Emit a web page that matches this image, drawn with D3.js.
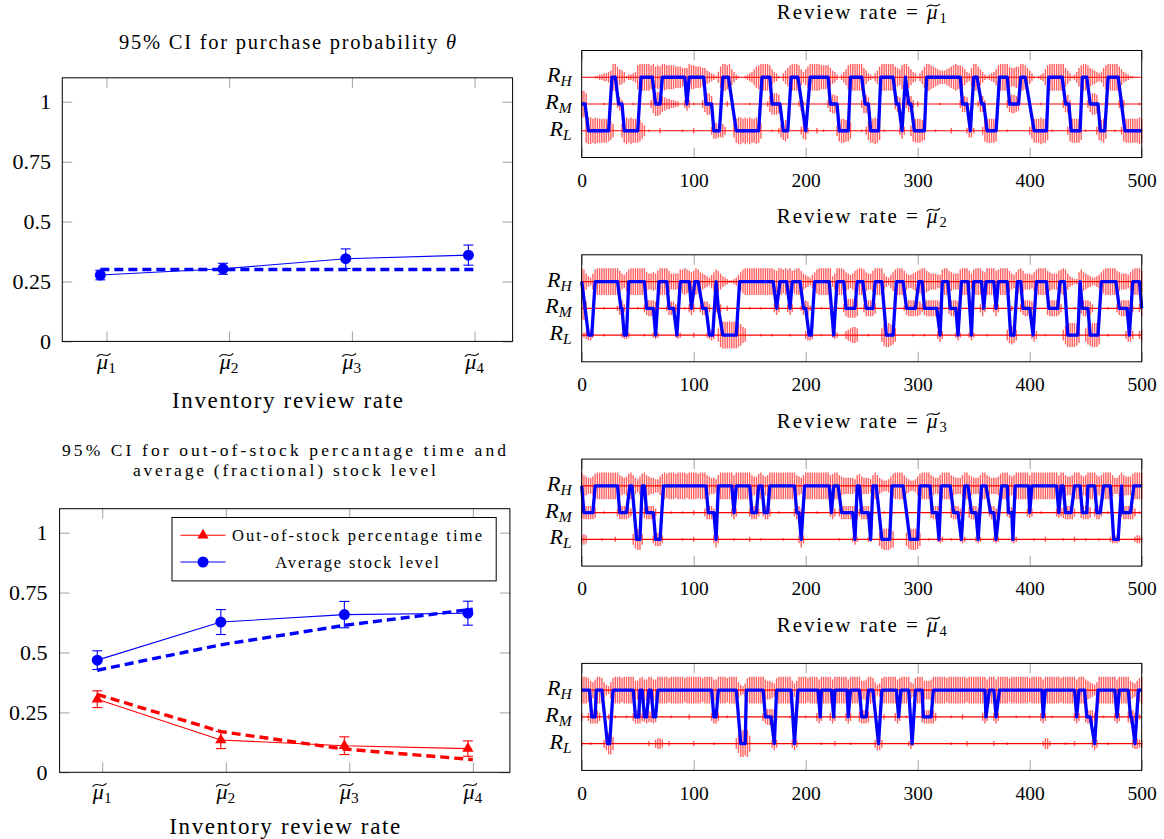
<!DOCTYPE html>
<html>
<head>
<meta charset="utf-8">
<script src="https://cdn.jsdelivr.net/npm/d3@7"></script>
<style>
  body { margin: 0; background: #fff; }
  svg { display: block; background: #fff; }
  text { font-family: "Liberation Serif", "Times New Roman", serif; fill: #000; }
</style>
</head>
<body>
<div id="chart"></div>
<script>
// ---------- data: left charts ----------
const rateIdx = [1, 2, 3, 4];
const yTicksLeft = [0, 0.25, 0.5, 0.75, 1];

// 95% CI for purchase probability theta
const thetaMean = [0.277, 0.303, 0.345, 0.36];
const thetaErr = [0.02, 0.023, 0.041, 0.042];
const thetaTrue = [0.3, 0.3, 0.3, 0.3];

// out-of-stock percentage time / average stock level
const oosMean = [0.305, 0.135, 0.111, 0.099];
const oosErr = [0.035, 0.036, 0.037, 0.032];
const oosModel = [0.325, 0.17, 0.097, 0.053];
const stockMean = [0.468, 0.627, 0.658, 0.664];
const stockErr = [0.039, 0.052, 0.055, 0.05];
const stockModel = [0.426, 0.532, 0.613, 0.681];

const legendLabels = ["Out-of-stock percentage time", "Average stock level"];

// ---------- data: right panels ----------
const xTicksRight = [0, 100, 200, 300, 400, 500];
const levelNames = ["L", "M", "H"];
const levelValue = { L: 1, M: 2, H: 3 };

// review state over time, vertices "time+level"
const path1 = "0M 3M 6L 24L 27H 30H 33M 36M 38L 50L 53H 63H 66M 70M 72H 92H 94M 96H 109H 111M 116M 118L 123L 126H 131H 138L 158L 161H 168H 170M 177M 180L 184L 187H 193H 200L 204H 220H 222M 228M 230L 238L 240H 250H 253M 256M 258L 265L 267H 278H 281M 283M 286L 289H 292M 294M 297L 306L 308H 338H 340M 344M 347L 350H 353H 357M 359M 362L 370L 373H 380H 382M 390M 392H 396H 404L 415L 417H 429H 432M 435M 437L 445L 447H 451H 454M 461M 463L 467L 470H 479H 482M 485L 500L";
const path2 = "0H 6L 9L 12H 32H 35M 36M 38L 40L 42H 56H 58M 64M 66L 69H 76H 78M 82M 85L 88H 96H 98M 101H 104H 108M 111M 114L 117L 120H 122M 126L 138L 141H 171H 174M 177H 183H 186M 188H 195H 198M 200M 203L 205L 208H 221H 225L 228H 234H 236M 244M 246H 251H 254M 260M 262H 268H 272L 278L 281H 287H 290M 298M 301H 304H 306M 317M 320L 322H 327H 329M 334M 336L 339H 345H 348L 350H 357H 359M 361H 368H 370M 372H 380H 383L 386L 389H 392H 394M 400M 403L 406H 415H 417M 425M 427H 431H 434L 443L 445H 447M 452M 454L 461L 464H 477H 480M 487M 489L 492H 498H 500M";
const path3 = "0H 2M 10M 12H 32H 34M 40M 43H 45H 49L 52L 54H 56H 58M 64M 66L 70L 73H 111H 113M 118M 120L 122H 134H 136M 138H 150H 152M 156M 158H 161H 163M 166M 168H 190H 192M 194M 196L 199H 221H 223M 225H 229H 232M 242M 244L 246H 248H 250M 256M 258L 260H 263H 268L 275L 277H 287H 293L 300L 302H 311H 313M 317M 319L 321H 329H 332M 336M 339L 342H 345H 348M 352M 354L 357H 361H 365M 368M 370L 375H 380H 381M 384M 385L 387H 399H 400M 402H 424H 426M 428H 430H 432M 437M 440H 445H 447M 451M 452H 458H 460M 463M 466H 472H 475L 479L 482H 483M 490M 493H 500H";
const path4 = "0H 7H 9M 12M 13H 18H 23L 25L 28H 46H 48M 51M 52H 54H 56M 58M 60H 62H 64M 66M 68H 116H 118M 120M 122H 138H 142L 146L 147H 162H 164M 169M 172L 174H 187H 190L 193H 211H 213M 214H 223H 225M 226H 237H 238M 240H 248H 250M 254M 256H 260H 265L 268H 281H 283M 285H 292H 295L 298H 304H 305M 312M 314H 360H 361M 364H 368H 370M 373H 411H 412M 414H 440H 442M 444H 449H 451M 454M 458L 461H 476H 478M 480H 488H 490M 491M 494L 497H 500H";

// CI half-widths on each level: [start time, digits], one bar every 2 time units,
// each base-36 digit = 0.05 level units
const barsL1 = [[4,"9aa9a99999875"],[36,"59a9a999864"],[60,"1"],[70,"2"],[90,"1"],[100,"2"],[116,"3665553"],[136,"59aa9a9a99a96"],[170,"1"],[176,"25786"],[196,"3672"],[210,"2"],[216,"1"],[228,"4899886"],[250,"1"],[254,"3799a97"],[270,"1"],[284,"363"],[294,"4899987"],[316,"1"],[330,"2"],[344,"2552"],[358,"3899998"],[380,"1"],[400,"36999a997"],[420,"1"],[434,"3899997"],[450,"1"],[460,"37896"],[476,"1"],[482,"38999999a9"]];
const barsM1 = [[0,"aa8"],[20,"1"],[32,"353"],[46,"1"],[62,"3799865443322"],[92,"353"],[100,"1"],[108,"36886"],[130,"2"],[150,"1"],[166,"268887"],[194,"252"],[220,"36776"],[240,"1"],[250,"3775"],[266,"1"],[280,"465"],[290,"3663"],[300,"2"],[320,"1"],[338,"3665"],[354,"2663"],[380,"367765"],[410,"1"],[430,"3673"],[452,"36887"],[470,"1"],[480,"363"],[498,"1"]];
const barsH1 = [[12,"11223345"],[28,"aa8654"],[40,"12234"],[50,"9aaaaa9a"],[66,"898"],[72,"aa9999888777"],[96,"a9988877"],[112,"54321"],[122,"48aa9a"],[134,"6421"],[146,"123468"],[158,"9aaaa9"],[170,"6431"],[180,"3579"],[188,"aaa9"],[196,"6468"],[204,"aaaaa9999"],[222,"7542"],[232,"2469"],[240,"aaaaaa"],[252,"75321"],[262,"358"],[268,"aaaaaa"],[280,"8769a"],[290,"a8"],[294,"6431"],[302,"358"],[308,"aa98765556789a99"],[340,"8643"],[348,"7a"],[352,"a8642"],[362,"123469"],[374,"aaaa"],[382,"87788"],[392,"aa9"],[398,"7531"],[408,"12369"],[418,"aaaaaaa"],[432,"7531"],[440,"2479"],[448,"aa9"],[454,"76543"],[464,"479"],[470,"aaaaa"],[480,"8643211"]];

const barsL2 = [[2,"23442"],[20,"1"],[36,"2332"],[56,"1"],[64,"232"],[84,"232"],[100,"2"],[112,"2343"],[122,"59aaaaaaa9865"],[160,"1"],[170,"1"],[186,"1"],[200,"3443"],[214,"1"],[224,"232"],[236,"345665"],[256,"1"],[268,"5899875"],[296,"1"],[306,"1"],[318,"353"],[334,"242"],[346,"242"],[362,"1"],[380,"46764"],[402,"353"],[414,"1"],[430,"47999986"],[450,"5789997"],[470,"1"],[486,"3553"],[498,"34"]];
const barsM2 = [[0,"895"],[20,"1"],[32,"2563"],[50,"1"],[56,"356665"],[76,"25553"],[92,"1"],[96,"353"],[106,"35553"],[120,"353"],[130,"2"],[150,"1"],[160,"1"],[172,"353"],[184,"353"],[196,"25652"],[214,"1"],[222,"1"],[234,"3677776"],[252,"366664"],[270,"2"],[280,"1"],[288,"256666653"],[306,"56666665"],[328,"46665"],[346,"1"],[356,"363"],[368,"363"],[384,"2"],[392,"3566653"],[416,"5666653"],[440,"1"],[446,"466653"],[470,"1"],[478,"35666653"],[498,"36"]];
const barsH2 = [[0,"a964"],[8,"369aaaaaaaaaa8657"],[42,"9aaaaaaa766768"],[70,"aaaa8666699"],[92,"a9878a9765"],[112,"43579864321"],[134,"123579"],[146,"aaaaaaaaaaaaa9"],[174,"8aa9a9a89aa"],[196,"86543579aaaaaa"],[224,"46aaa9"],[236,"765689aa9"],[254,"7668aaaa"],[270,"643579aaa"],[288,"86556789aa"],[308,"87666559aa8766"],[336,"69aaa869aaa87aaaa89a"],[376,"aaa86579a86665"],[404,"79aaaa8766689a96"],[436,"43227976543"],[458,"34579aaaaa876"],[484,"66579aaa8"]];

const barsL3 = [[0,"343"],[18,"1"],[30,"2"],[46,"47884"],[64,"35553"],[90,"1"],[100,"2"],[118,"363"],[136,"1"],[150,"2"],[160,"1"],[180,"1"],[194,"363"],[230,"1"],[242,"242"],[256,"22"],[266,"5788876"],[290,"5788875"],[310,"1"],[318,"232"],[330,"1"],[338,"232"],[352,"232"],[368,"232"],[384,"232"],[404,"1"],[414,"2"],[430,"1"],[440,"2"],[450,"1"],[462,"1"],[472,"23332"],[494,"2332"]];
const barsM3 = [[0,"4555554"],[20,"1"],[32,"3555543"],[56,"455553"],[80,"1"],[90,"1"],[100,"2"],[110,"35553"],[134,"353"],[150,"35553"],[162,"3553"],[176,"1"],[190,"3553"],[210,"1"],[222,"353"],[230,"3555555553"],[250,"5555"],[270,"1"],[290,"2"],[300,"1"],[312,"45553"],[330,"45553"],[346,"45553"],[364,"3553"],[380,"3443"],[398,"343"],[410,"1"],[424,"343"],[430,"455553"],[446,"45554"],[458,"3553"],[470,"1"],[482,"3555553"],[498,"1"]];
const barsH3 = [[0,"a876679aaaaaaaaaa87679"],[44,"a86579a87665579"],[74,"a9aaa9aaaa9aaaa9aaa"],[112,"876658aaaaaa8aaaaaaa8779a878"],[168,"aaaaaaaaaaaa8768aaaaaaaaaaa89aa8"],[232,"766666589766658a86544579aaaa86544579aaaa"],[312,"87668aaaa87666"],[340,"8aa876668aa8766679aaa878aaaaaa8"],[402,"aaaaaaaaaaaa8aa8778aaa878aaaa878aaaa8668a87779aaaa"]];

const barsL4 = [[0,"2"],[8,"1"],[20,"35885"],[60,"2"],[66,"3443"],[78,"2"],[100,"2"],[118,"1"],[138,"47aa9a6"],[170,"353"],[188,"353"],[214,"1"],[226,"2"],[240,"1"],[262,"3553"],[292,"242"],[330,"1"],[344,"2"],[368,"2"],[380,"1"],[412,"2442"],[432,"1"],[440,"2"],[456,"353"],[470,"1"],[492,"3443"],[500,"3"]];
const barsM4 = [[0,"3"],[6,"355553"],[24,"2"],[30,"1"],[40,"1"],[46,"35553"],[56,"454"],[62,"454"],[80,"1"],[96,"2"],[116,"3553"],[130,"1"],[140,"2"],[162,"3566653"],[186,"1"],[200,"1"],[210,"353"],[222,"353"],[236,"353"],[248,"45554"],[270,"2"],[280,"353"],[290,"1"],[304,"4555553"],[330,"1"],[340,"2"],[358,"353"],[368,"353"],[388,"1"],[400,"1"],[410,"353"],[420,"1"],[440,"353"],[450,"45553"],[466,"1"],[476,"353"],[488,"4553"],[498,"2"]];
const barsH4 = [[0,"aaa9768"],[14,"aa964369"],[30,"aaa9aaaaa"],[48,"779a88aa88a"],[70,"aaaa9aaaaaa9aaaaaaa9aaaa"],[118,"88a"],[124,"aaa9aaaa"],[140,"64359"],[150,"aaaaaaa"],[164,"877659"],[176,"aaaaaa"],[188,"757"],[194,"aaaa9aaaa"],[212,"8aaaaa"],[224,"8aaaaaa"],[238,"8aaaaa"],[250,"778aa9"],[262,"6459"],[270,"aaaaaa"],[282,"89aaaa"],[294,"659aaa"],[306,"7778"],[314,"aaaaaa9aaaaaaaa9aaaaaaaa"],[362,"8aaa"],[370,"8aaaaa9aaaaaaaa9aaaaa"],[412,"8aaaaaaa9aaaaaa"],[442,"8aaa"],[450,"876546"],[462,"aaaaaaaa"],[478,"8aaaaa"],[490,"76579a"]];

// ---------- drawing ----------
const BLUE = "#0000ff", RED = "#ff0000", TICK = "#a0a0a0";

const svg = d3.select("#chart").append("svg")
  .attr("width", 1164)
  .attr("height", 839);

function styleAxis(sel, fs) {
  sel.attr("font-size", fs).attr("font-family", null);
  sel.select(".domain").remove();
  sel.selectAll(".tick line").attr("stroke", TICK);
}

// wide tilde drawn above one character of a text element
function addTilde(g, text, charIndex, fs) {
  const e = text.node().getExtentOfChar(charIndex);
  const base = +text.attr("y");
  const cx = e.x + e.width * 0.6, cy = base - fs * 0.5 - 3;
  const w = fs * 0.6, a = fs * 0.06;
  g.append("path")
    .attr("d", `M${cx - w / 2},${cy + a}C${cx - w / 6},${cy - 3 * a} ${cx + w / 6},${cy + 3 * a} ${cx + w / 2},${cy - a}`)
    .attr("fill", "none")
    .attr("stroke", "#000")
    .attr("stroke-width", 1.1)
    .attr("stroke-linecap", "round");
}

function muLabel(g, x, y, k, fs) {
  const t = g.append("text")
    .attr("x", x).attr("y", y)
    .attr("font-size", fs)
    .attr("text-anchor", "middle");
  t.append("tspan").attr("font-style", "italic").text("μ");
  t.append("tspan").attr("font-size", fs * 0.7).attr("dy", fs * 0.2).text(k);
  addTilde(g, t, 0, fs);
}

function leftPanel(c) {
  const g = svg.append("g");
  const x = d3.scaleLinear().domain(c.xDomain).range([c.left, c.right]);
  const y = d3.scaleLinear().domain([0, 1.1]).range([c.bottom, c.top]);

  g.append("g").attr("transform", `translate(${c.left},0)`)
    .call(d3.axisLeft(y).tickValues(yTicksLeft).tickFormat(d => d).tickSize(-10).tickPadding(c.pad))
    .call(styleAxis, 22);
  g.append("g").attr("transform", `translate(${c.right},0)`)
    .call(d3.axisRight(y).tickValues(yTicksLeft).tickFormat("").tickSize(-10))
    .call(styleAxis, 22);
  g.append("g").attr("transform", `translate(0,${c.bottom})`)
    .call(d3.axisBottom(x).tickValues(rateIdx).tickFormat("").tickSize(-10))
    .call(styleAxis, 22);
  g.append("g").attr("transform", `translate(0,${c.top})`)
    .call(d3.axisTop(x).tickValues(rateIdx).tickFormat("").tickSize(-10))
    .call(styleAxis, 22);

  rateIdx.forEach(k => muLabel(g, x(k), c.muBase, k, 22));

  g.append("text")
    .attr("x", (c.left + c.right) / 2).attr("y", c.xLabelBase)
    .attr("text-anchor", "middle").attr("font-size", 23)
    .attr("textLength", 231).attr("lengthAdjust", "spacing")
    .text("Inventory review rate");

  return { g, x, y, c };
}

function boxOf(p) {
  p.g.append("rect")
    .attr("x", p.c.left).attr("y", p.c.top)
    .attr("width", p.c.right - p.c.left).attr("height", p.c.bottom - p.c.top)
    .attr("fill", "none").attr("stroke", "#000").attr("stroke-width", 1);
}

function modelLine(p, vals, color) {
  const xs = rateIdx.map((k, i) => (i === rateIdx.length - 1 ? k : k + p.c.shift));
  const line = d3.line().x((d, i) => p.x(xs[i])).y(d => p.y(d));
  p.g.append("path")
    .attr("d", line(vals))
    .attr("fill", "none")
    .attr("stroke", color)
    .attr("stroke-width", 3.4)
    .attr("stroke-dasharray", "9,5");
}

function ciSeries(p, mean, err, color, symbol, size) {
  const xs = rateIdx.map(k => k + p.c.shift);
  const line = d3.line().x((d, i) => p.x(xs[i])).y(d => p.y(d));
  p.g.append("path")
    .attr("d", line(mean))
    .attr("fill", "none").attr("stroke", color).attr("stroke-width", 1.1);
  const eb = p.g.append("g").attr("stroke", color).attr("stroke-width", 1.1);
  mean.forEach((m, i) => {
    const cx = p.x(xs[i]);
    eb.append("line").attr("x1", cx).attr("x2", cx)
      .attr("y1", p.y(m - err[i])).attr("y2", p.y(m + err[i]));
    [m - err[i], m + err[i]].forEach(v => {
      eb.append("line").attr("x1", cx - 5).attr("x2", cx + 5)
        .attr("y1", p.y(v)).attr("y2", p.y(v));
    });
  });
  p.g.append("g").selectAll("path").data(mean).join("path")
    .attr("transform", (d, i) => `translate(${p.x(xs[i])},${p.y(d)})`)
    .attr("d", d3.symbol(symbol, size))
    .attr("fill", color);
}

// ---- top left: purchase probability ----
const pTheta = leftPanel({
  left: 62.3, right: 512.6, top: 77.8, bottom: 341.4,
  xDomain: [0.64, 4.31], pad: 11.3, shift: -0.05, muBase: 369, xLabelBase: 408
});
modelLine(pTheta, thetaTrue, BLUE);
ciSeries(pTheta, thetaMean, thetaErr, BLUE, d3.symbolCircle, 95);
boxOf(pTheta);
svg.append("text")
  .attr("x", 287.5).attr("y", 49)
  .attr("text-anchor", "middle").attr("font-size", 20.5)
  .attr("textLength", 337).attr("lengthAdjust", "spacing")
  .call(t => {
    t.append("tspan").text("95% CI for purchase probability ");
    t.append("tspan").attr("font-style", "italic").text("θ");
  });

// ---- bottom left: out-of-stock / stock level ----
const pStock = leftPanel({
  left: 59.6, right: 509.9, top: 508.7, bottom: 772.3,
  xDomain: [0.655, 4.30], pad: 12, shift: -0.04, muBase: 799, xLabelBase: 834
});
modelLine(pStock, stockModel, BLUE);
modelLine(pStock, oosModel, RED);
ciSeries(pStock, stockMean, stockErr, BLUE, d3.symbolCircle, 95);
ciSeries(pStock, oosMean, oosErr, RED, d3.symbolTriangle, 55);
boxOf(pStock);
svg.append("text")
  .attr("text-anchor", "middle").attr("font-size", 17.5)
  .call(t => {
    t.append("tspan").attr("x", 284).attr("y", 455.5)
      .attr("textLength", 444).attr("lengthAdjust", "spacing")
      .text("95% CI for out-of-stock percantage time and");
    t.append("tspan").attr("x", 284.4).attr("y", 476)
      .attr("textLength", 303).attr("lengthAdjust", "spacing")
      .text("average (fractional) stock level");
  });

// legend
const legend = svg.append("g");
legend.append("rect")
  .attr("x", 172).attr("y", 517.5).attr("width", 324.2).attr("height", 63.4)
  .attr("fill", "#fff").attr("stroke", "#000").attr("stroke-width", 1);
const legendStyle = [
  { color: RED, symbol: d3.symbolTriangle, size: 55, width: 250 },
  { color: BLUE, symbol: d3.symbolCircle, size: 95, width: 163.5 }
];
legendLabels.forEach((label, i) => {
  const s = legendStyle[i];
  const ly = 535.2 + i * 26.8;
  legend.append("line").attr("x1", 180.5).attr("x2", 225.5).attr("y1", ly).attr("y2", ly)
    .attr("stroke", s.color).attr("stroke-width", 1.1);
  legend.append("path").attr("transform", `translate(203,${ly})`)
    .attr("d", d3.symbol(s.symbol, s.size)).attr("fill", s.color);
  legend.append("text")
    .attr("x", 357).attr("y", ly + 5.5)
    .attr("text-anchor", "middle").attr("font-size", 16.5)
    .attr("textLength", s.width).attr("lengthAdjust", "spacing")
    .text(label);
});

// ---- right panels ----
function rightPanel(k, pathStr, barSets) {
  const top = 50.5 + 204.3 * k, bottom = top + 107;
  const x = d3.scaleLinear().domain([0, 500]).range([581.7, 1141.7]);
  const y = d3.scaleLinear().domain([0, 4]).range([bottom, top]);
  const g = svg.append("g");

  // level lines
  g.append("g").selectAll("line").data(levelNames).join("line")
    .attr("x1", x(0)).attr("x2", x(500))
    .attr("y1", d => y(levelValue[d])).attr("y2", d => y(levelValue[d]))
    .attr("stroke", RED).attr("stroke-width", 1.2);

  // CI bars
  levelNames.forEach((lv, j) => {
    const bars = barSets[j]
      .flatMap(([t0, s]) => Array.from(s, (ch, i) => ({ t: t0 + 2 * i, h: parseInt(ch, 36) * 0.05 })))
      .filter(d => d.h > 0);
    g.append("g")
      .attr("stroke", RED).attr("stroke-width", 1.4).attr("stroke-opacity", 0.62)
      .selectAll("line").data(bars).join("line")
      .attr("x1", d => x(d.t)).attr("x2", d => x(d.t))
      .attr("y1", d => y(levelValue[lv] - d.h))
      .attr("y2", d => y(levelValue[lv] + d.h));
  });

  // state path
  const pts = pathStr.split(" ").map(s => [+s.slice(0, -1), s.slice(-1)]);
  const line = d3.line().x(d => x(d[0])).y(d => y(levelValue[d[1]]));
  g.append("path")
    .attr("d", line(pts))
    .attr("fill", "none")
    .attr("stroke", BLUE)
    .attr("stroke-width", 3.3)
    .attr("stroke-linejoin", "round");

  g.append("g").attr("transform", `translate(0,${bottom})`)
    .call(d3.axisBottom(x).tickValues(xTicksRight).tickSize(-10).tickPadding(15.5))
    .call(styleAxis, 19.5);
  g.append("g").attr("transform", `translate(0,${top})`)
    .call(d3.axisTop(x).tickValues(xTicksRight).tickFormat("").tickSize(-10))
    .call(styleAxis, 19.5);

  g.append("rect")
    .attr("x", x(0)).attr("y", top)
    .attr("width", x(500) - x(0)).attr("height", bottom - top)
    .attr("fill", "none").attr("stroke", "#000").attr("stroke-width", 1);

  levelNames.forEach(lv => {
    const t = g.append("text")
      .attr("x", x(0) - 10).attr("y", y(levelValue[lv]) + 5)
      .attr("text-anchor", "end").attr("font-size", 22).attr("font-style", "italic");
    t.append("tspan").text("R");
    t.append("tspan").attr("font-size", 15.5).attr("dy", 4).text(lv);
  });

  const tt = g.append("text")
    .attr("x", (x(0) + x(500)) / 2).attr("y", top - 31.5)
    .attr("text-anchor", "middle").attr("font-size", 21)
    .attr("textLength", 170).attr("lengthAdjust", "spacing");
  tt.append("tspan").text("Review rate = ");
  tt.append("tspan").attr("font-style", "italic").text("μ");
  tt.append("tspan").attr("font-size", 14.5).attr("dy", 4).text(k + 1);
  addTilde(g, tt, 14, 21);
}

rightPanel(0, path1, [barsL1, barsM1, barsH1]);
rightPanel(1, path2, [barsL2, barsM2, barsH2]);
rightPanel(2, path3, [barsL3, barsM3, barsH3]);
rightPanel(3, path4, [barsL4, barsM4, barsH4]);
</script>
</body>
</html>
